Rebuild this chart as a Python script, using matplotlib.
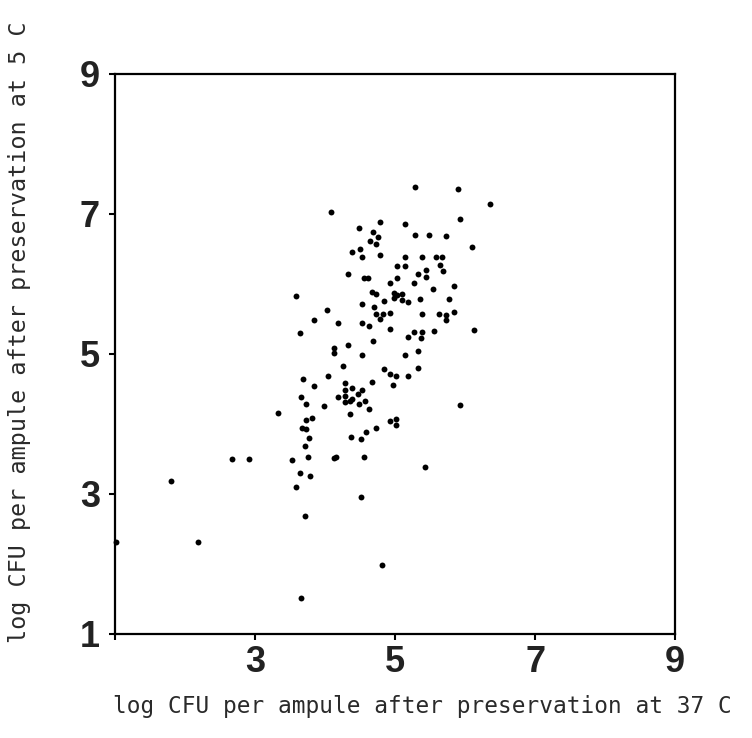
import numpy as np
import matplotlib
matplotlib.use("Agg")
import matplotlib.pyplot as plt

# log CFU per ampule: 37 C (x) vs 5 C (y)
x37 = [5.29, 5.89, 6.35, 4.08, 5.93, 4.78, 4.49, 5.14, 4.69, 4.76,
       5.28, 5.49, 5.73, 4.64, 4.73, 6.09, 4.50, 4.39, 4.53, 4.78,
       5.14, 5.39, 5.58, 5.67, 5.03, 5.14, 5.64, 5.69, 5.44, 5.33,
       4.33, 5.44, 5.03, 4.55, 4.61, 5.27, 4.92, 5.54, 5.84, 4.67,
       4.73, 4.98, 5.03, 5.10, 4.98, 5.10, 5.19, 5.36, 5.77, 4.84,
       4.53, 4.70, 3.59, 4.03, 4.73, 4.82, 4.93, 5.39, 5.63, 5.73,
       5.84, 4.78, 5.72, 3.84, 4.18, 4.53, 4.63, 4.93, 6.12, 3.64,
       5.27, 5.39, 5.56, 5.18, 5.37, 4.69, 4.33, 4.13, 4.13, 4.53,
       5.14, 5.33, 4.26, 4.84, 5.32, 4.93, 5.01, 5.18, 4.04, 3.68,
       4.67, 4.97, 3.84, 4.28, 4.38, 4.53, 4.28, 3.66, 4.19, 4.28,
       4.47, 4.38, 4.28, 4.36, 4.48, 4.57, 3.73, 3.98, 4.63, 5.93,
       3.32, 4.36, 3.72, 3.81, 4.93, 5.01, 5.01, 3.67, 3.73, 4.72,
       4.59, 3.77, 4.37, 4.51, 3.71, 2.67, 2.91, 3.52, 3.75, 4.12,
       4.16, 4.56, 5.43, 3.64, 3.78, 1.80, 3.58, 4.51, 3.71, 2.19,
       4.81, 3.66, 1.02]
y5 = [7.39, 7.36, 7.14, 7.03, 6.92, 6.88, 6.80, 6.85, 6.74, 6.67,
      6.70, 6.70, 6.68, 6.61, 6.57, 6.53, 6.50, 6.46, 6.38, 6.41,
      6.38, 6.39, 6.39, 6.39, 6.25, 6.26, 6.27, 6.18, 6.20, 6.14,
      6.14, 6.10, 6.09, 6.08, 6.08, 6.01, 6.01, 5.93, 5.97, 5.88,
      5.85, 5.87, 5.84, 5.86, 5.80, 5.77, 5.74, 5.78, 5.78, 5.75,
      5.71, 5.67, 5.82, 5.63, 5.57, 5.57, 5.58, 5.57, 5.57, 5.56,
      5.60, 5.50, 5.48, 5.49, 5.44, 5.44, 5.40, 5.35, 5.34, 5.30,
      5.31, 5.31, 5.32, 5.24, 5.23, 5.19, 5.12, 5.09, 5.01, 4.99,
      4.98, 5.04, 4.83, 4.79, 4.80, 4.71, 4.68, 4.68, 4.68, 4.64,
      4.60, 4.56, 4.54, 4.59, 4.51, 4.49, 4.49, 4.39, 4.39, 4.40,
      4.43, 4.35, 4.31, 4.32, 4.29, 4.32, 4.29, 4.25, 4.21, 4.27,
      4.15, 4.14, 4.06, 4.09, 4.04, 4.07, 3.98, 3.94, 3.93, 3.94,
      3.89, 3.80, 3.81, 3.79, 3.68, 3.50, 3.50, 3.48, 3.53, 3.51,
      3.53, 3.53, 3.39, 3.30, 3.25, 3.19, 3.10, 2.96, 2.68, 2.31,
      1.98, 1.52, 2.31]
ticks = [1, 3, 5, 7, 9]

fig = plt.figure(figsize=(7.52, 7.38), dpi=100)
ax = fig.add_axes([0.153, 0.141, 0.745, 0.759])

ax.scatter(x37, y5, s=18, color='black', linewidths=0, clip_on=False)

ax.set_xlim(1, 9)
ax.set_ylim(1, 9)
ax.set_xticks(ticks)
ax.set_yticks(ticks)
ax.set_xticklabels(['', '3', '5', '7', '9'])
ax.set_yticklabels([str(t) for t in ticks])

for lab in ax.get_xticklabels() + ax.get_yticklabels():
    lab.set_fontfamily('Liberation Sans')
    lab.set_fontweight('bold')
    lab.set_fontsize(26)
    lab.set_color('#222222')

ax.tick_params(direction='out', length=4, width=1.5)
ax.tick_params(axis='x', pad=4)
ax.tick_params(axis='y', pad=7)
for sp in ax.spines.values():
    sp.set_linewidth(1.6)

# axis titles in a typewriter-like face, placed in figure pixels
fig.text(113 / 752, 1 - 707 / 738, 'log CFU per ampule after preservation at 37 C',
         family='DejaVu Sans Mono', fontsize=16.4, ha='left', va='center', color='#2a2a2a')
fig.text(20 / 752, 1 - 332 / 738, 'log CFU per ampule after preservation at 5 C',
         family='DejaVu Sans Mono', fontsize=16.8, rotation=90, ha='center', va='center',
         color='#2a2a2a')

fig.savefig('out.png', dpi=100)
